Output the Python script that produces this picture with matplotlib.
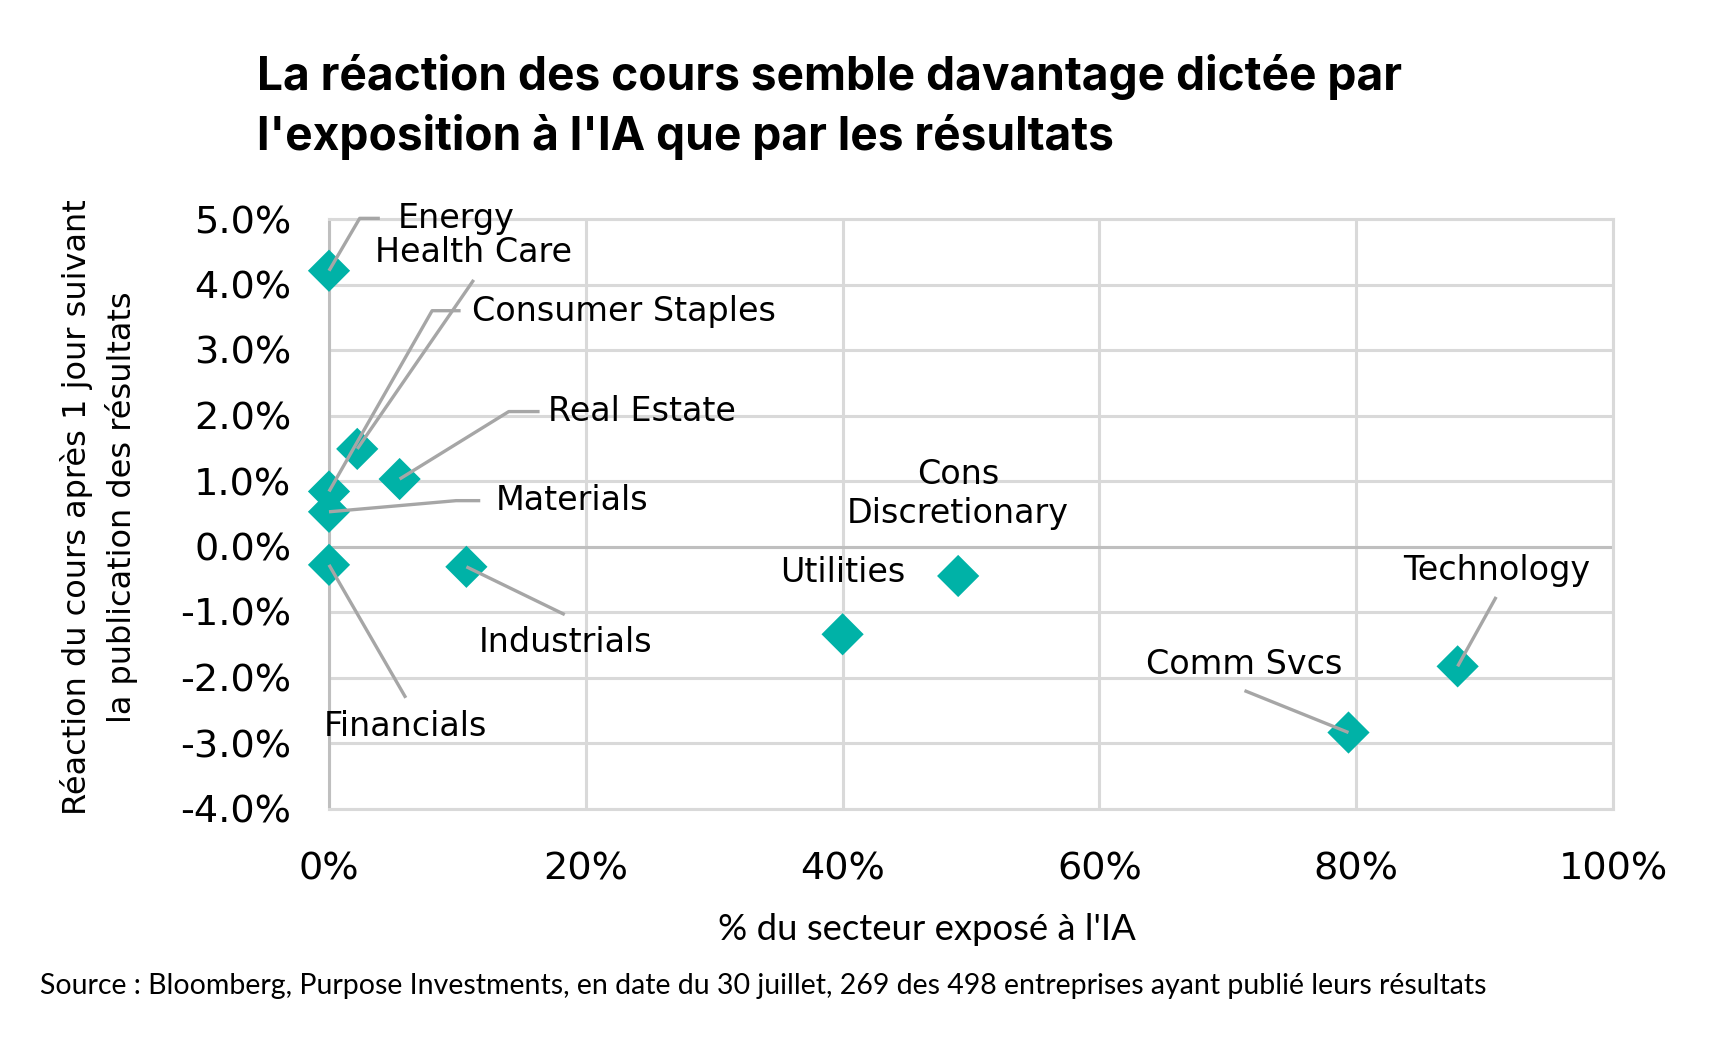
import matplotlib
matplotlib.use("Agg")
import matplotlib.pyplot as plt
from matplotlib.ticker import FuncFormatter

# ---------------- data ----------------
sectors = ["Energy", "Health Care", "Consumer Staples", "Real Estate", "Materials",
           "Financials", "Industrials", "Utilities", "Cons\nDiscretionary",
           "Comm Svcs", "Technology"]
ai_exposure = [0.0, 2.2, 0.0, 5.5, 0.0, 0.0, 10.7, 40.0, 49.0, 79.4, 87.9]      # % of sector
price_reaction = [4.21, 1.49, 0.84, 1.03, 0.53, -0.28, -0.31, -1.34, -0.45, -2.84, -1.83]  # %

x_ticks = [0, 20, 40, 60, 80, 100]
y_ticks = [-4, -3, -2, -1, 0, 1, 2, 3, 4, 5]

title = "La réaction des cours semble davantage dictée par\nl'exposition à l'IA que par les résultats"
x_label = "% du secteur exposé à l'IA"
y_label = "Réaction du cours après 1 jour suivant\nla publication des résultats"
source = "Source : Bloomberg, Purpose Investments, en date du 30 juillet, 269 des 498 entreprises ayant publié leurs résultats"

# ---------------- layout (label placement, in data units) ----------------
label_layout = {
    "Energy": ((9.9, 5.01, "center"), [(3.96, 5.01), (2.39, 5.01)]),
    "Health Care": ((11.27, 4.49, "center"), [(11.27, 4.07)]),
    "Consumer Staples": ((11.1, 3.59, "left"), [(10.25, 3.60), (8.03, 3.60)]),
    "Real Estate": ((17.08, 2.06, "left"), [(16.4, 2.06), (14.0, 2.06)]),
    "Materials": ((12.98, 0.70, "left"), [(11.78, 0.70), (9.9, 0.70)]),
    "Financials": ((5.98, -2.75, "center"), [(5.98, -2.31)]),
    "Industrials": ((18.45, -1.46, "center"), [(18.36, -1.04)]),
    "Utilities": ((40.05, -0.40, "center"), []),
    "Cons\nDiscretionary": ((49.0, 0.80, "center"), []),
    "Comm Svcs": ((71.3, -1.80, "center"), [(71.3, -2.20)]),
    "Technology": ((90.95, -0.36, "center"), [(90.9, -0.77)]),
}

W, H = 1722, 1038
fig = plt.figure(figsize=(W / 100, H / 100), dpi=100)
fig.patch.set_facecolor("white")

ax_l, ax_r, ax_t, ax_b = 329, 1613, 219, 808.5
ax = fig.add_axes([ax_l / W, 1 - ax_b / H, (ax_r - ax_l) / W, (ax_b - ax_t) / H])

TEAL = "#00B2A7"
GRID = "#D9D9D9"
AXIS = "#BFBFBF"
LEADER = "#A6A6A6"

ax.set_xlim(0, 100)
ax.set_ylim(-4, 5)
ax.set_xticks(x_ticks)
ax.set_yticks(y_ticks)
ax.xaxis.set_major_formatter(FuncFormatter(lambda v, p: f"{v:.0f}%"))
ax.yaxis.set_major_formatter(FuncFormatter(lambda v, p: f"{v:.1f}%"))
ax.grid(True, color=GRID, linewidth=2.2, zorder=0)
ax.set_axisbelow(True)
for side in ["top", "right", "bottom"]:
    ax.spines[side].set_color(GRID)
    ax.spines[side].set_linewidth(2.2)
ax.spines["left"].set_color(AXIS)
ax.spines["left"].set_linewidth(2.2)
ax.axhline(0, color=AXIS, linewidth=2.2, zorder=1)
ax.tick_params(length=0, labelsize=27.5, colors="black")
ax.tick_params(axis="y", pad=27)
ax.tick_params(axis="x", pad=31)

ax.scatter(ai_exposure, price_reaction, marker="D", s=21.5 ** 2, color=TEAL,
           edgecolor="none", zorder=3, clip_on=False)

for name, xv, yv in zip(sectors, ai_exposure, price_reaction):
    (lx, ly, ha), way = label_layout[name]
    ax.text(lx, ly, name, ha=ha, va="center", fontsize=24, color="black",
            linespacing=1.24, zorder=5)
    if way:
        xs = [p[0] for p in way] + [xv]
        ys = [p[1] for p in way] + [yv]
        ax.plot(xs, ys, color=LEADER, linewidth=2.4, zorder=4,
                solid_capstyle="butt", clip_on=False)

fig.text(257 / W, 1 - 107 / H, title, ha="left", va="center", fontsize=33.2,
         fontweight="bold", family=["Inter", "DejaVu Sans"], linespacing=1.4)

fig.text(99 / W, 1 - 507 / H, y_label, rotation=90, ha="center", va="center",
         fontsize=23, linespacing=1.45, multialignment="center")

fig.text(927 / W, 1 - 930 / H, x_label, ha="center", va="center", fontsize=26.3,
         family=["Lato", "DejaVu Sans"])

fig.text(40 / W, 1 - 986 / H, source, ha="left", va="center", fontsize=20.5,
         family=["Lato", "DejaVu Sans"])

fig.savefig("out.png", dpi=100, facecolor="white")
